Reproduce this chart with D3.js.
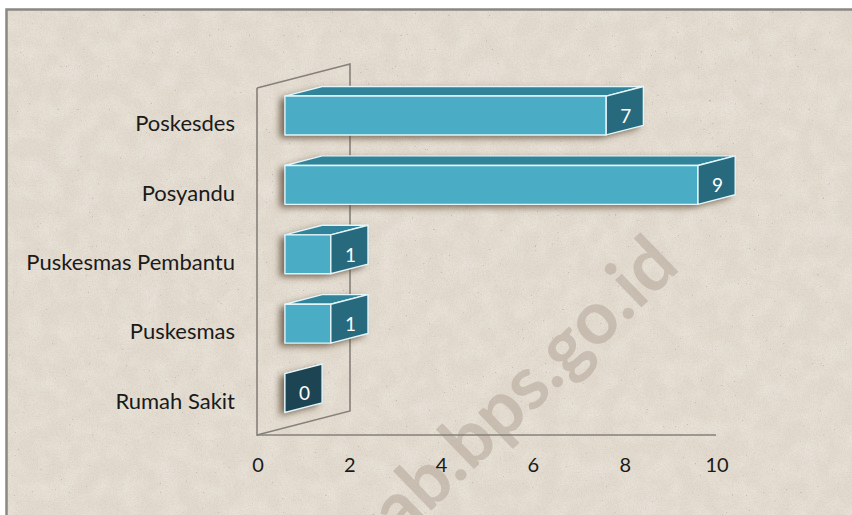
<!DOCTYPE html>
<html>
<head>
<meta charset="utf-8">
<script src="https://cdn.jsdelivr.net/npm/d3@7"></script>
<style>
  body { margin: 0; background: #fff; }
  svg { display: block; }
  text { font-family: Lato, "Open Sans", sans-serif; }
</style>
</head>
<body>
<svg id="chart"></svg>
<script>
// data
const categories = ["Poskesdes", "Posyandu", "Puskesmas Pembantu", "Puskesmas", "Rumah Sakit"];
const values = [7, 9, 1, 1, 0];
const xTicks = [0, 2, 4, 6, 8, 10];
const watermark = "kab.bps.go.id";

const W = 852, H = 515;
// depth vector of the 3d box, bars sit between f0 and f1 of it
const depth = [93, -24];
const f0 = 0.3, f1 = 0.7;

const proj = (x, y, f) => [x + f * depth[0], y + f * depth[1]];
const pts = a => a.map(p => p.join(",")).join(" ");

window.addEventListener("load", () => {
  const svg = d3.select("#chart").attr("width", W).attr("height", H);
  const defs = svg.append("defs");

  // paper texture
  const grain = defs.append("filter").attr("id", "grain")
    .attr("x", 0).attr("y", 0).attr("width", "100%").attr("height", "100%");
  grain.append("feTurbulence").attr("type", "fractalNoise")
    .attr("baseFrequency", 0.75).attr("numOctaves", 2).attr("seed", 4);
  grain.append("feColorMatrix").attr("type", "matrix")
    .attr("values", "0 0 0 0 0.45  0 0 0 0 0.40  0 0 0 0 0.34  1.2 0 0 0 -0.45");
  const mottle = defs.append("filter").attr("id", "mottle")
    .attr("x", 0).attr("y", 0).attr("width", "100%").attr("height", "100%");
  mottle.append("feTurbulence").attr("type", "fractalNoise")
    .attr("baseFrequency", 0.05).attr("numOctaves", 3).attr("seed", 9);
  mottle.append("feColorMatrix").attr("type", "matrix")
    .attr("values", "0 0 0 0 1  0 0 0 0 0.98  0 0 0 0 0.95  0.9 0 0 0 -0.3");
  const specks = defs.append("filter").attr("id", "specks")
    .attr("x", 0).attr("y", 0).attr("width", "100%").attr("height", "100%");
  specks.append("feTurbulence").attr("type", "turbulence")
    .attr("baseFrequency", 0.35).attr("numOctaves", 1).attr("seed", 21);
  specks.append("feColorMatrix").attr("type", "matrix")
    .attr("values", "0 0 0 0 0.42  0 0 0 0 0.37  0 0 0 0 0.32  6 0 0 0 -3.1");

  const shadow = defs.append("filter").attr("id", "shadow")
    .attr("x", "-30%").attr("y", "-30%").attr("width", "160%").attr("height", "160%");
  shadow.append("feGaussianBlur").attr("stdDeviation", 3.5);

  svg.append("rect").attr("x", 6).attr("y", 9).attr("width", W - 6).attr("height", H - 9)
    .attr("fill", "#e3dbcf");
  svg.append("rect").attr("x", 6).attr("y", 9).attr("width", W - 6).attr("height", H - 9)
    .attr("filter", "url(#mottle)").attr("opacity", 0.5);
  svg.append("rect").attr("x", 6).attr("y", 9).attr("width", W - 6).attr("height", H - 9)
    .attr("filter", "url(#grain)").attr("opacity", 0.4);
  svg.append("rect").attr("x", 6).attr("y", 9).attr("width", W - 6).attr("height", H - 9)
    .attr("filter", "url(#specks)").attr("opacity", 0.55);
  // frame, top and left only
  svg.append("path").attr("d", `M6.5,${H} L6.5,9.5 L${W},9.5`)
    .attr("fill", "none").attr("stroke", "#8b8882").attr("stroke-width", 2.5);

  const x = d3.scaleLinear().domain([0, 10]).range([257, 716]);
  const y = d3.scaleBand().domain(categories).range([88, 435])
    .paddingInner(0.44).paddingOuter(0.22);

  // watermark
  svg.append("text")
    .attr("transform", "translate(662,248) rotate(-44)")
    .attr("text-anchor", "end").attr("dominant-baseline", "central")
    .attr("font-family", "Liberation Sans, Arial, sans-serif")
    .attr("font-weight", "bold").attr("font-size", 74)
    .attr("fill", "#b3a597").attr("fill-opacity", 0.55)
    .text(watermark);

  // side wall and floor edge
  const y0 = y.range()[0], y1 = y.range()[1], xl = x(0);
  const wall = svg.append("g").attr("fill", "none").attr("stroke", "#85807a").attr("stroke-width", 1.6);
  wall.append("path").attr("d", d3.line()([[xl, y0], proj(xl, y0, 1), proj(xl, y1, 1), [xl, y1], [xl, y0]]));
  wall.append("line").attr("x1", xl).attr("y1", y1).attr("x2", x(10)).attr("y2", y1);

  const bars = categories.map((c, i) => {
    const a = x(0), b = x(values[i]), t = y(c), btm = t + y.bandwidth();
    return {
      c, v: values[i],
      front: [proj(a, t, f0), proj(b, t, f0), proj(b, btm, f0), proj(a, btm, f0)],
      top: [proj(a, t, f0), proj(b, t, f0), proj(b, t, f1), proj(a, t, f1)],
      side: [proj(b, t, f0), proj(b, t, f1), proj(b, btm, f1), proj(b, btm, f0)],
      outline: [proj(a, t, f0), proj(a, t, f1), proj(b, t, f1), proj(b, btm, f1), proj(b, btm, f0), proj(a, btm, f0)]
    };
  });

  svg.append("g").selectAll("polygon").data(bars).enter().append("polygon")
    .attr("points", d => pts(d.outline.map(p => [p[0] - 5, p[1] + 3])))
    .attr("fill", "#5a4630").attr("opacity", 0.8).attr("filter", "url(#shadow)");

  const g = svg.append("g").attr("stroke", "#e4f6fa").attr("stroke-width", 1.4)
    .attr("stroke-linejoin", "round");
  const bar = g.selectAll("g").data(bars).enter().append("g");
  bar.append("polygon").attr("points", d => pts(d.top)).attr("fill", "#31839a");
  bar.append("polygon").attr("points", d => pts(d.front)).attr("fill", "#4bacc6");
  bar.append("polygon").attr("points", d => pts(d.side))
    .attr("fill", d => d.v === 0 ? "#1d4452" : "#276a7d");

  // value labels on the end faces
  svg.append("g").selectAll("text").data(bars).enter().append("text")
    .attr("x", d => (d.side[0][0] + d.side[1][0]) / 2 + 1)
    .attr("y", d => (d.side[0][1] + d.side[2][1]) / 2 + 12)
    .attr("text-anchor", "middle").attr("font-size", 19).attr("fill", "#fff")
    .text(d => d.v);

  // category labels
  svg.append("g").selectAll("text").data(categories).enter().append("text")
    .attr("x", 235).attr("y", d => y(d) + y.bandwidth() / 2 + 8.5)
    .attr("text-anchor", "end").attr("font-size", 22).attr("fill", "#1a1a1a")
    .text(d => d);

  // value axis labels
  svg.append("g").selectAll("text").data(xTicks).enter().append("text")
    .attr("x", d => x(d) + 1).attr("y", 472)
    .attr("text-anchor", "middle").attr("font-size", 20).attr("fill", "#1a1a1a")
    .text(d => d);
});
</script>
</body>
</html>
